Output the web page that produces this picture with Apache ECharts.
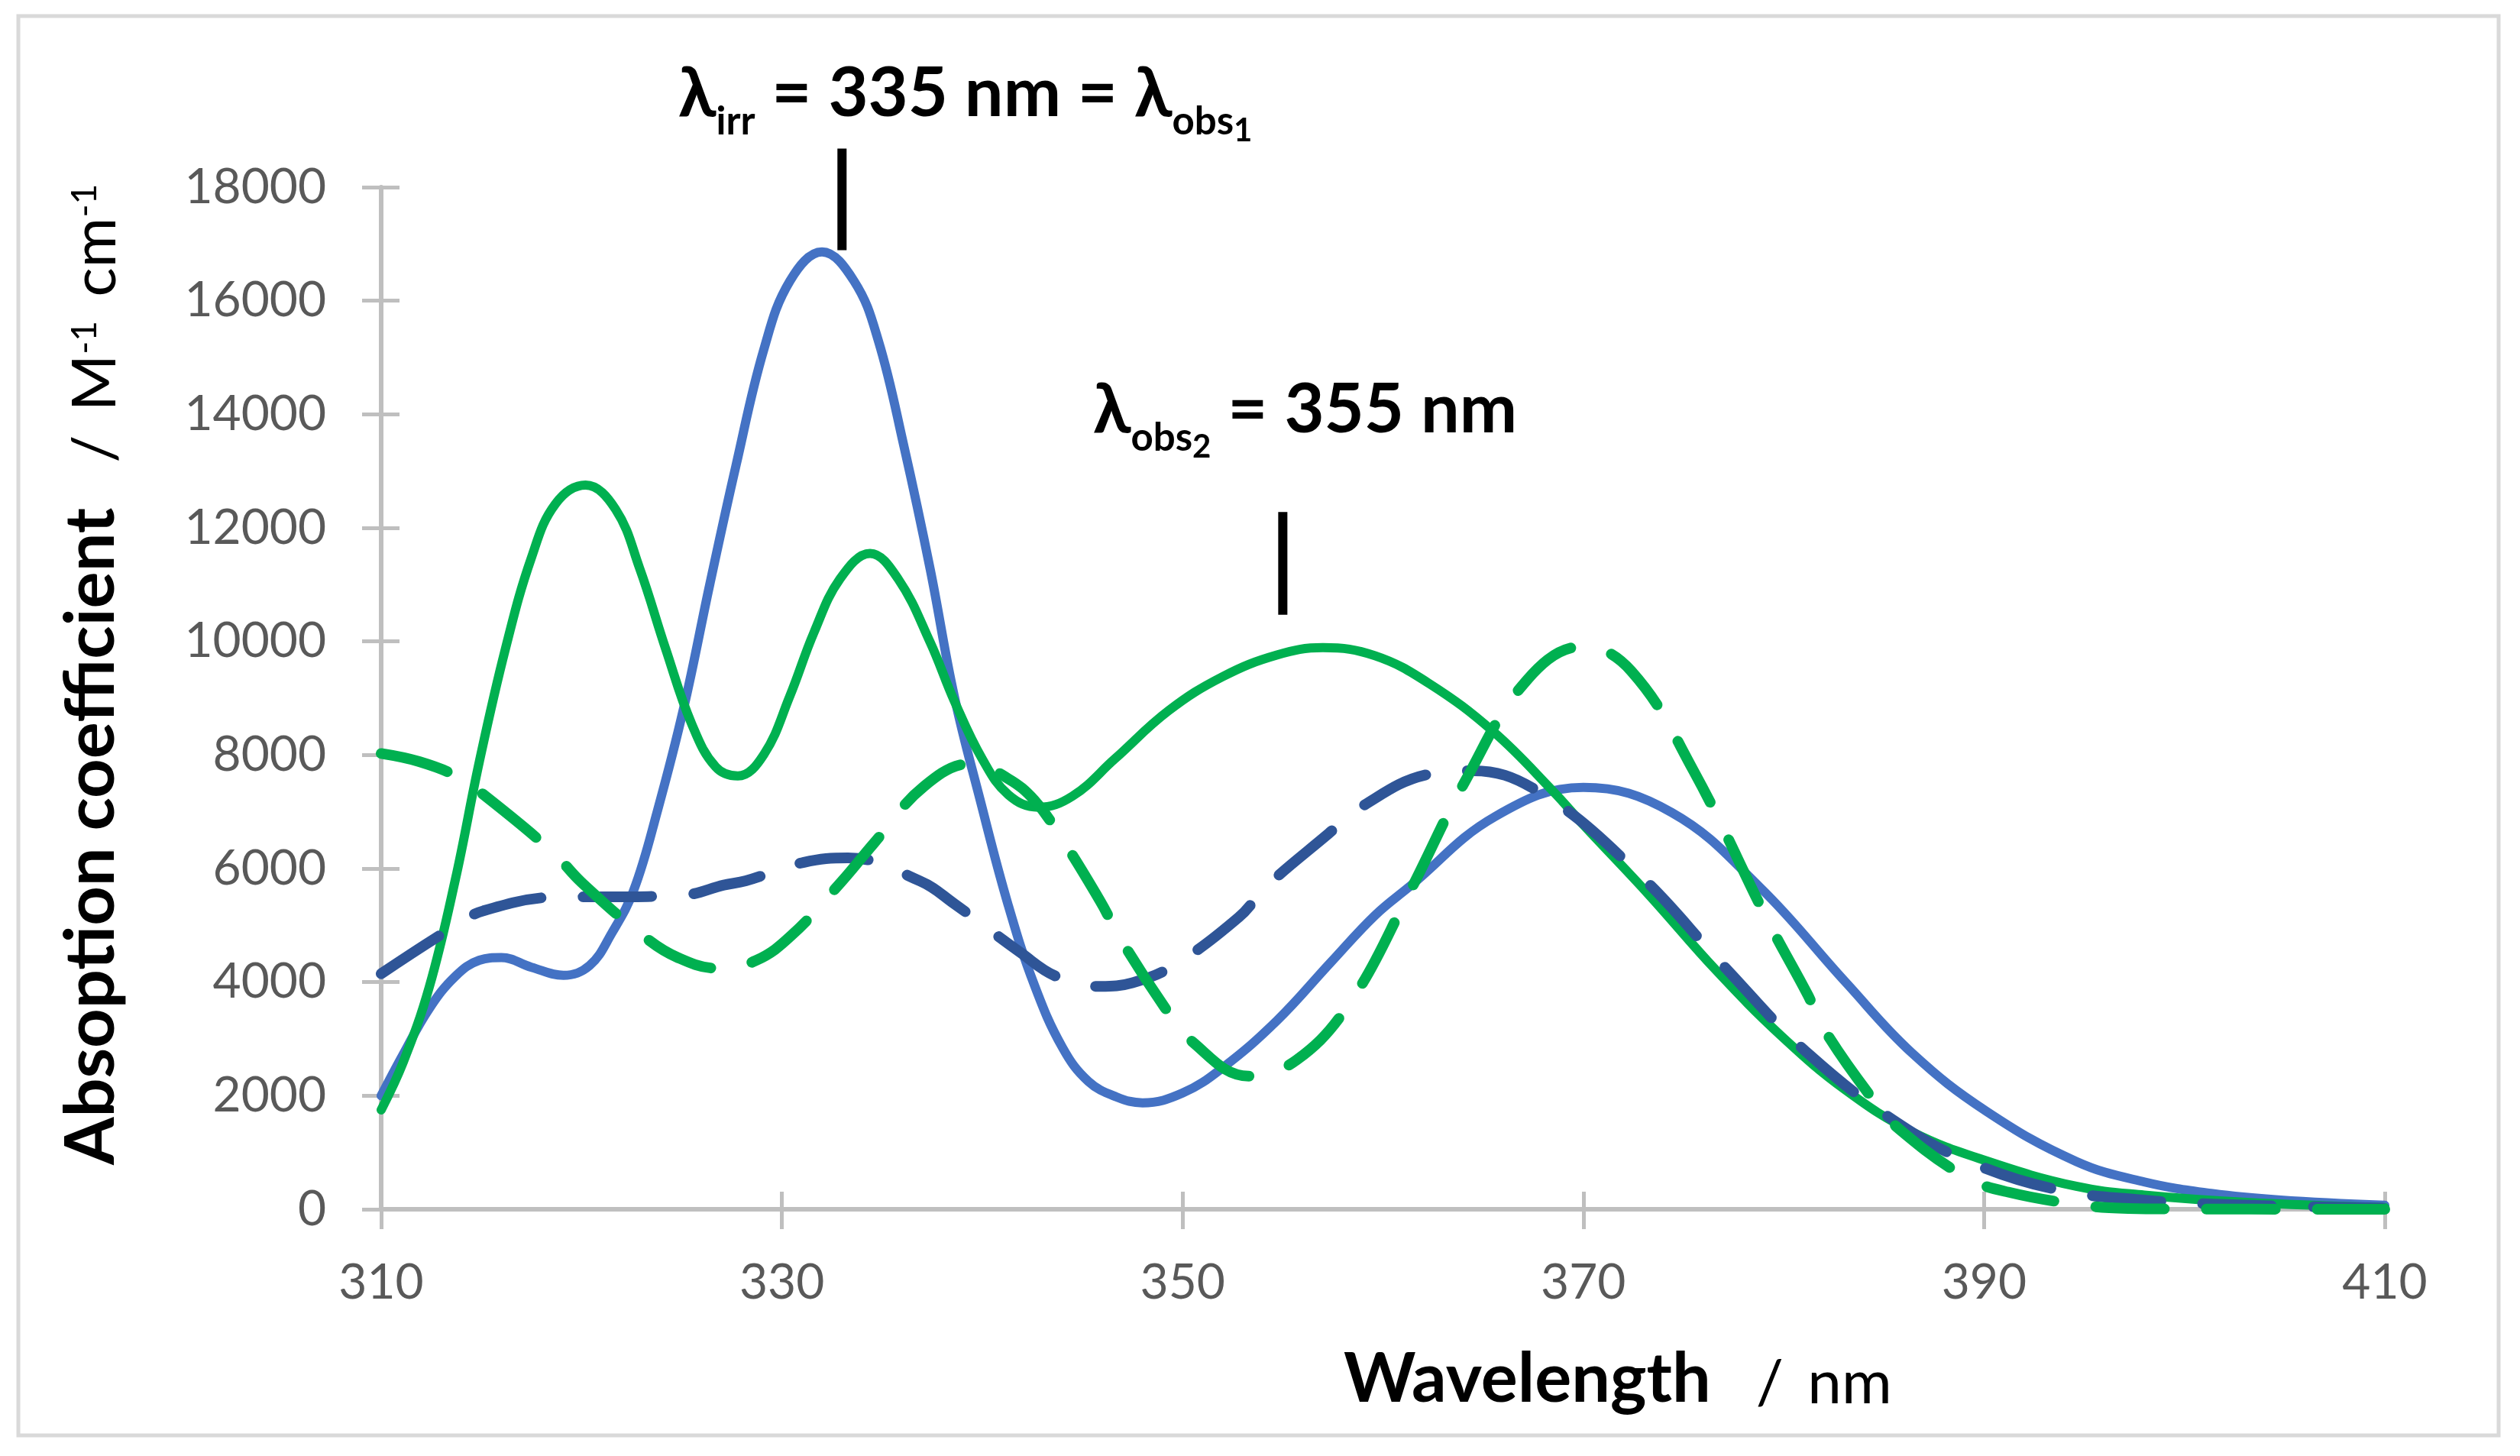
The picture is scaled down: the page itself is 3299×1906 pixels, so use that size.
<!DOCTYPE html>
<html>
<head>
<meta charset="utf-8">
<script src="https://cdn.jsdelivr.net/npm/echarts@6/dist/echarts.min.js"></script>
<style>
html,body{margin:0;padding:0;background:#fff;}
#c{width:3299px;height:1906px;}
</style>
</head>
<body>
<div id="c"></div>
<script>
// ---- data ----
const xTicks = [310, 330, 350, 370, 390, 410];
const yTicks = [0, 2000, 4000, 6000, 8000, 10000, 12000, 14000, 16000, 18000];

// blue solid
const blueX = [310, 311.1, 312.4, 313.7, 314.9, 316, 317.5, 319.1, 320.4, 321.5, 322.6, 323.8, 325.1, 326.4, 327.7, 329.1, 330.4, 332, 333.6, 334.8, 336.1, 337.4, 338.6, 339.9, 341.3, 342.6, 344, 345.3, 346.7, 348, 350, 352, 354.7, 357.4, 359.6, 361.3, 365.6, 370, 374.4, 378.8, 383.1, 386.4, 390.1, 394.6, 398, 401.4, 404.8, 410];
const blueY = [2000, 2730, 3534, 4101, 4385, 4433, 4262, 4120, 4291, 4857, 5614, 7032, 8829, 11003, 13083, 15143, 16347, 16861, 16347, 15314, 13423, 11275, 9040, 7200, 5350, 3950, 2850, 2250, 1978, 1875, 2047, 2493, 3319, 4350, 5175, 5674, 6916, 7428, 6989, 5674, 3995, 2753, 1730, 842, 481, 275, 162, 70];

// green solid
const greenX = [310, 311.1, 312.4, 313.7, 314.9, 316.2, 317.5, 318.7, 320.2, 321.7, 322.9, 324.2, 325.5, 326.7, 327.8, 329.1, 330.4, 331.6, 332.9, 334.4, 335.8, 337.4, 338.6, 340, 341.3, 342.8, 344.5, 346.6, 349.3, 352, 354.7, 357, 359.6, 362.3, 365.5, 368.5, 370, 373.3, 376.6, 379.9, 383.1, 386.4, 390.1, 394.6, 398, 403.1, 410];
const greenY = [1750, 2589, 3912, 5803, 7883, 9868, 11476, 12422, 12752, 12326, 11287, 9868, 8545, 7788, 7630, 8008, 9040, 10157, 11102, 11550, 11102, 9985, 8955, 7930, 7300, 7080, 7275, 7926, 8780, 9380, 9760, 9890, 9748, 9259, 8414, 7358, 6771, 5528, 4218, 3046, 2096, 1365, 854, 404, 249, 121, 30];

// green dashed
const greenDashX = [310, 311.9, 313.8, 315.4, 318.6, 320, 323.1, 324.8, 326.8, 328.7, 330.5, 333, 334.6, 337.1, 339.5, 341.3, 342.6, 343.8, 345.9, 346.9, 349.1, 350.4, 353.3, 355.7, 358.4, 361.3, 364.1, 367.2, 370, 372.4, 375.5, 379.3, 381.2, 382.1, 384.5, 385.8, 389.1, 391.2, 395, 397.2, 400, 410];
const greenDashY = [8026, 7883, 7618, 7221, 6276, 5756, 4810, 4433, 4244, 4380, 4830, 5780, 6450, 7450, 7850, 7582, 7204, 6620, 5418, 4763, 3559, 2976, 2345, 2631, 3663, 5566, 7538, 9326, 9911, 9474, 7722, 5018, 3776, 3119, 1914, 1402, 562, 302, 69, 15, 5, 0];

// dark blue dashed
const darkDashX = [310, 313.3, 315.1, 319.1, 321, 325.2, 327.1, 328.2, 331.1, 333.3, 336.9, 338.6, 341.9, 343.7, 345.9, 347.5, 349.5, 352.8, 354.2, 357.3, 358.8, 362.3, 364.5, 368.1, 372.9, 377, 381.3, 386.2, 389.9, 393.9, 397.6, 401.4, 410];
const darkDashY = [4148, 4905, 5255, 5501, 5501, 5539, 5709, 5784, 6110, 6190, 5780, 5381, 4523, 4100, 3925, 3990, 4282, 5142, 5691, 6620, 7062, 7662, 7722, 7282, 5857, 4286, 2717, 1402, 744, 327, 172, 90, 20];

// marker bars (wavelength, from, to)
const markIrr = [333, 16890, 18680];
const markObs2 = [355, 10470, 12280];

// ---- chart ----
const pairs = (xs, ys) => xs.map((x, i) => [x, ys[i]]);
const FONT = 'Lato, "Open Sans", "Noto Sans", sans-serif';
const GREY = '#bfbfbf';

const chart = echarts.init(document.getElementById('c'), null, {renderer: 'canvas'});

function lineSeries(name, data, color, dashed, width) {
  return {
    name, type: 'line', data, xAxisIndex: 0, yAxisIndex: 0,
    smooth: 0.4, showSymbol: false, symbol: 'none', silent: true,
    lineStyle: {color, width, type: dashed ? [90, 55] : 'solid', cap: 'round', join: 'round'}
  };
}
function barSeries(m) {
  return {
    type: 'line', data: [[m[0], m[1]], [m[0], m[2]]], clip: false, z: 10,
    symbol: 'none', silent: true, xAxisIndex: 0, yAxisIndex: 0,
    lineStyle: {color: '#000', width: 12, cap: 'butt'}
  };
}

const axisCommonX = {type: 'value', min: xTicks[0], max: xTicks[xTicks.length - 1], interval: 20, position: 'bottom'};
const axisCommonY = {type: 'value', min: yTicks[0], max: yTicks[yTicks.length - 1], interval: 2000, position: 'left'};

const subRich = {
  m: {fontFamily: FONT, fontWeight: 'bold', fontSize: 90, color: '#000', verticalAlign: 'bottom', padding: [0, 0, 24, 0]},
  sb: {fontFamily: FONT, fontWeight: 'bold', fontSize: 51, color: '#000', verticalAlign: 'bottom', padding: [0, 0, 7, 0]},
  sd: {fontFamily: FONT, fontWeight: 'bold', fontSize: 42, color: '#000', verticalAlign: 'bottom', padding: [0, 0, 0, 0]}
};
const titleRich = {
  b: {fontFamily: FONT, fontWeight: 'bold', fontSize: 90, color: '#000', verticalAlign: 'bottom'},
  r: {fontFamily: FONT, fontWeight: 'normal', fontSize: 80, color: '#000', verticalAlign: 'bottom', padding: [0, 0, 0, 18]},
  rp: {fontFamily: FONT, fontWeight: 'normal', fontSize: 80, color: '#000', verticalAlign: 'bottom', padding: [0, 0, 0, 11]},
  s: {fontFamily: FONT, fontWeight: 'normal', fontSize: 46, color: '#000', verticalAlign: 'bottom', padding: [0, 0, 31, 0]}
};

chart.setOption({
  animation: false,
  backgroundColor: '#fff',
  grid: {left: 499, right: 177, top: 245, bottom: 323, containLabel: false},
  xAxis: [
    Object.assign({}, axisCommonX, {
      axisLine: {show: true, onZero: false, lineStyle: {color: GREY, width: 6}},
      axisTick: {show: true, inside: false, length: 26, lineStyle: {color: GREY, width: 5}},
      axisLabel: {show: true, margin: 64, color: '#595959', fontFamily: FONT, fontSize: 64},
      splitLine: {show: false}
    }),
    Object.assign({}, axisCommonX, {
      axisLine: {show: false},
      axisTick: {show: true, inside: true, length: 23, lineStyle: {color: GREY, width: 5}},
      axisLabel: {show: false}, splitLine: {show: false}
    })
  ],
  yAxis: [
    Object.assign({}, axisCommonY, {
      axisLine: {show: true, onZero: false, lineStyle: {color: GREY, width: 6}},
      axisTick: {show: true, inside: false, length: 25, lineStyle: {color: GREY, width: 5}},
      axisLabel: {show: true, margin: 72, color: '#595959', fontFamily: FONT, fontSize: 64,
                  formatter: v => String(v)},
      splitLine: {show: false}
    }),
    Object.assign({}, axisCommonY, {
      axisLine: {show: false},
      axisTick: {show: true, inside: true, length: 24, lineStyle: {color: GREY, width: 5}},
      axisLabel: {show: false}, splitLine: {show: false}
    })
  ],
  series: [
    lineSeries('blue', pairs(blueX, blueY), '#4472c4', false, 12),
    lineSeries('green', pairs(greenX, greenY), '#00b050', false, 12),
    lineSeries('darkDash', pairs(darkDashX, darkDashY), '#2f5597', true, 14),
    lineSeries('greenDash', pairs(greenDashX, greenDashY), '#00b050', true, 14),
    barSeries(markIrr),
    barSeries(markObs2)
  ],
  graphic: [
    {type: 'rect', silent: true, z: -1,
     shape: {x: 24, y: 21, width: 3247, height: 1858},
     style: {fill: 'none', stroke: '#d9d9d9', lineWidth: 5}},
    {type: 'text', silent: true, x: 888, y: 192,
     style: {text: '{m|λ}{sb|irr}{m| = 335 nm = λ}{sb|obs}{sd|1}', rich: subRich,
             align: 'left', verticalAlign: 'bottom', textAlign: 'left', textVerticalAlign: 'bottom'}},
    {type: 'text', silent: true, x: 1431, y: 606,
     style: {text: '{m|λ}{sb|obs}{sd|2}{m| = 355 nm}', rich: subRich,
             align: 'left', verticalAlign: 'bottom', textAlign: 'left', textVerticalAlign: 'bottom'}},
    {type: 'text', silent: true, x: 1759, y: 1851,
     style: {text: '{b|Wavelength}{r|  /}{rp| nm}', rich: titleRich,
             align: 'left', verticalAlign: 'bottom', textAlign: 'left', textVerticalAlign: 'bottom'}},
    {type: 'text', silent: true, x: 165, y: 1525, rotation: Math.PI / 2,
     style: {text: '{b|Absoption coefficient}{r|  /}{rp| M}{s|-1}{rp| cm}{s|-1}', rich: titleRich,
             align: 'left', verticalAlign: 'bottom', textAlign: 'left', textVerticalAlign: 'bottom'}}
  ]
});
</script>
</body>
</html>
